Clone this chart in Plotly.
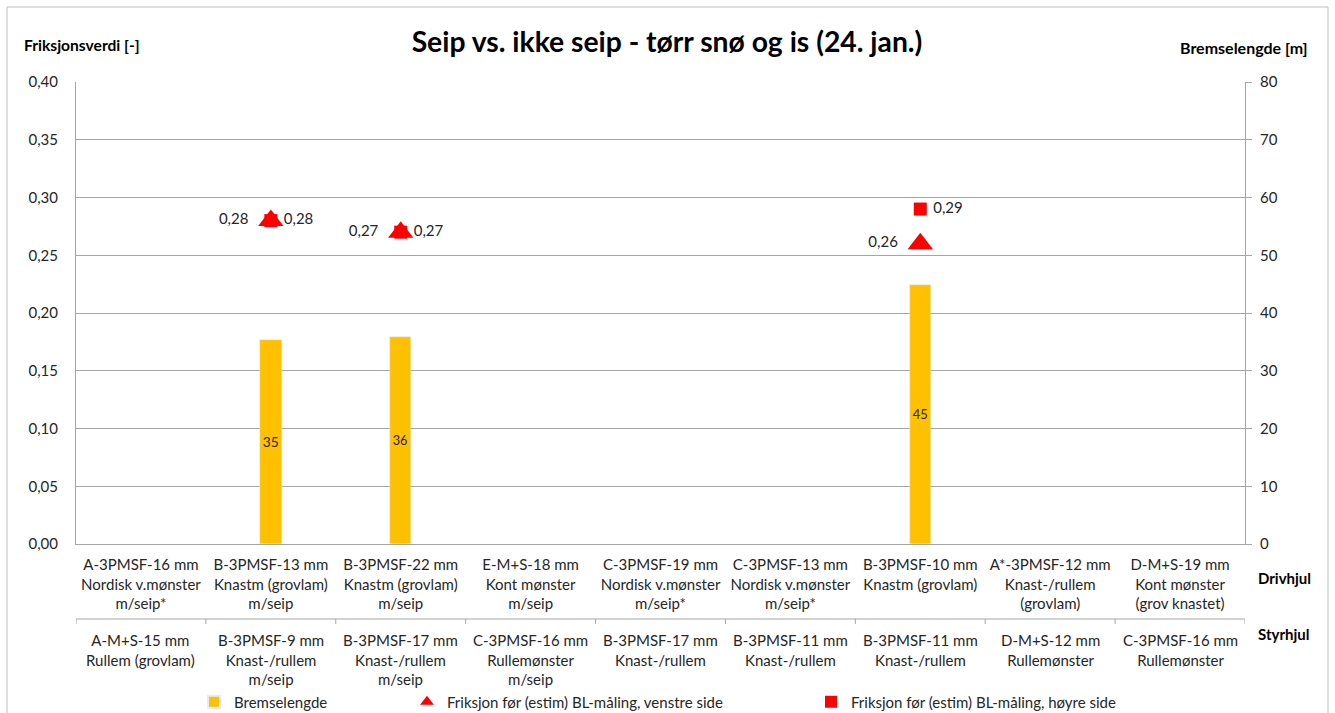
import plotly.graph_objects as go

drive_labels = [
    "A-3PMSF-16 mm<br>Nordisk v.mønster<br>m/seip*",
    "B-3PMSF-13 mm<br>Knastm (grovlam)<br>m/seip",
    "B-3PMSF-22 mm<br>Knastm (grovlam)<br>m/seip",
    "E-M+S-18 mm<br>Kont mønster<br>m/seip",
    "C-3PMSF-19 mm<br>Nordisk v.mønster<br>m/seip*",
    "C-3PMSF-13 mm<br>Nordisk v.mønster<br>m/seip*",
    "B-3PMSF-10 mm<br>Knastm (grovlam)",
    "A*-3PMSF-12 mm<br>Knast-/rullem<br>(grovlam)",
    "D-M+S-19 mm<br>Kont mønster<br>(grov knastet)",
]
steer_labels = [
    "A-M+S-15 mm<br>Rullem (grovlam)",
    "B-3PMSF-9 mm<br>Knast-/rullem<br>m/seip",
    "B-3PMSF-17 mm<br>Knast-/rullem<br>m/seip",
    "C-3PMSF-16 mm<br>Rullemønster<br>m/seip",
    "B-3PMSF-17 mm<br>Knast-/rullem",
    "B-3PMSF-11 mm<br>Knast-/rullem",
    "B-3PMSF-11 mm<br>Knast-/rullem",
    "D-M+S-12 mm<br>Rullemønster",
    "C-3PMSF-16 mm<br>Rullemønster",
]
bremselengde = [None, 35.3, 35.8, None, None, None, 44.8, None, None]
friksjon_venstre = [None, 0.28, 0.27, None, None, None, 0.26, None, None]
friksjon_hoyre = [None, 0.28, 0.27, None, None, None, 0.29, None, None]

FONT = "Lato"
TXT = "#262626"
GRID = "#a6a6a6"

W, H = 1335, 713
L, R, T, B = 76, 1245, 82, 544


def px(xp):
    return (xp - L) / (R - L)


def py(yp):
    return (B - yp) / (B - T)


idx = list(range(len(drive_labels)))

fig = go.Figure()
fig.add_trace(go.Bar(
    x=idx, y=bremselengde, yaxis="y2", name="Bremselengde",
    marker=dict(color="#FFC000"), width=0.165,
    text=[None if v is None else f"{v:.0f}" for v in bremselengde],
    textposition="inside", insidetextanchor="middle",
    textfont=dict(family=FONT, size=15, color=TXT),
    legend="legend",
))
fig.add_trace(go.Scatter(
    x=idx, y=friksjon_hoyre, mode="markers+text",
    name="Friksjon før (estim) BL-måling, høyre side",
    marker=dict(symbol="square", size=13, color="#FF0000"),
    text=[None if v is None else " " + f"{v:.2f}".replace(".", ",") for v in friksjon_hoyre],
    textposition="middle right",
    textfont=dict(family=FONT, size=15, color=TXT),
    legend="legend3",
))
fig.add_trace(go.Scatter(
    x=idx, y=friksjon_venstre, mode="markers+text",
    name="Friksjon før (estim) BL-måling, venstre side",
    marker=dict(symbol="triangle-up", size=22, color="#FF0000"),
    text=[None if v is None else f"{v:.2f}".replace(".", ",") + "  " for v in friksjon_venstre],
    textposition="middle left",
    textfont=dict(family=FONT, size=15, color=TXT),
    legend="legend2",
))

shapes = [
    # outer chart border
    dict(type="rect", xref="paper", yref="paper", x0=px(7), x1=px(1328), y0=py(730), y1=py(7),
         line=dict(color="#bfbfbf", width=1), fillcolor="rgba(0,0,0,0)", layer="below"),
    # separator line between label rows
    dict(type="line", xref="paper", yref="paper", x0=0, x1=1, y0=py(619), y1=py(619),
         line=dict(color=GRID, width=1)),
]
for k in range(len(drive_labels) + 1):
    shapes.append(dict(type="line", xref="x", yref="paper", x0=k - 0.5, x1=k - 0.5,
                       y0=py(619), y1=py(624), line=dict(color=GRID, width=1)))

annotations = [
    dict(text="<b>Friksjonsverdi [-]</b>", xref="paper", yref="paper", x=px(22), y=py(45),
         xanchor="left", yanchor="middle", showarrow=False, font=dict(family=FONT, size=15.6, color="#000")),
    dict(text="<b>Bremselengde [m]</b>", xref="paper", yref="paper", x=px(1310), y=py(47),
         xanchor="right", yanchor="middle", showarrow=False, font=dict(family=FONT, size=16, color="#000")),
    dict(text="<b>Drivhjul</b>", xref="paper", yref="paper", x=px(1256), y=py(578),
         xanchor="left", yanchor="middle", showarrow=False, font=dict(family=FONT, size=15, color="#000")),
    dict(text="<b>Styrhjul</b>", xref="paper", yref="paper", x=px(1256), y=py(634),
         xanchor="left", yanchor="middle", showarrow=False, font=dict(family=FONT, size=15, color="#000")),
]
for i, lab in enumerate(steer_labels):
    annotations.append(dict(text=lab, xref="x", yref="paper", x=i, y=py(629),
                            xanchor="center", yanchor="top", showarrow=False, align="center",
                            font=dict(family=FONT, size=15, color=TXT)))

legend_common = dict(orientation="h", xanchor="left", yanchor="middle",
                     xref="container", yref="container", y=1 - 702 / H,
                     font=dict(family=FONT, size=15, color=TXT), bgcolor="rgba(0,0,0,0)",
                     itemsizing="constant", itemclick=False, itemdoubleclick=False)

fig.update_layout(
    width=W, height=H,
    margin=dict(l=L, r=W - R, t=T, b=H - B, autoexpand=False),
    paper_bgcolor="white", plot_bgcolor="white",
    separators=", ",
    title=dict(text="<b>Seip vs. ikke seip - tørr snø og is (24. jan.)</b>",
               x=667 / W, xanchor="center", xref="container", y=1 - 42 / H, yanchor="middle",
               font=dict(family=FONT, size=28.3, color="#000")),
    font=dict(family=FONT, size=15, color=TXT),
    bargap=0,
    xaxis=dict(
        type="linear", range=[-0.5, len(drive_labels) - 0.5],
        tickmode="array", tickvals=idx, ticktext=drive_labels,
        showgrid=False, zeroline=False, ticks="", showline=True, linecolor=GRID,
        tickfont=dict(family=FONT, size=15, color=TXT), ticklabelstandoff=7,
        fixedrange=True,
    ),
    yaxis=dict(
        range=[0, 0.40], dtick=0.05, tickformat=".2f",
        showgrid=True, gridcolor=GRID, gridwidth=1, zeroline=False,
        showline=True, linecolor=GRID, ticks="", ticklabelstandoff=14,
        tickfont=dict(family=FONT, size=15, color=TXT), fixedrange=True,
    ),
    yaxis2=dict(
        range=[0, 80], dtick=10, overlaying="y", side="right",
        showgrid=False, zeroline=False, showline=True, linecolor=GRID,
        ticks="outside", ticklen=6, tickcolor=GRID,
        tickfont=dict(family=FONT, size=15, color=TXT), ticklabelstandoff=5, fixedrange=True,
    ),
    legend=dict(x=(234 - 40) / W, **legend_common),
    legend2=dict(x=(447 - 40) / W, **legend_common),
    legend3=dict(x=(851 - 40) / W, **legend_common),
    shapes=shapes,
    annotations=annotations,
    showlegend=True,
)

fig.write_html("out.html", config={"displayModeBar": False},
               post_script="document.body.style.margin='0';")
